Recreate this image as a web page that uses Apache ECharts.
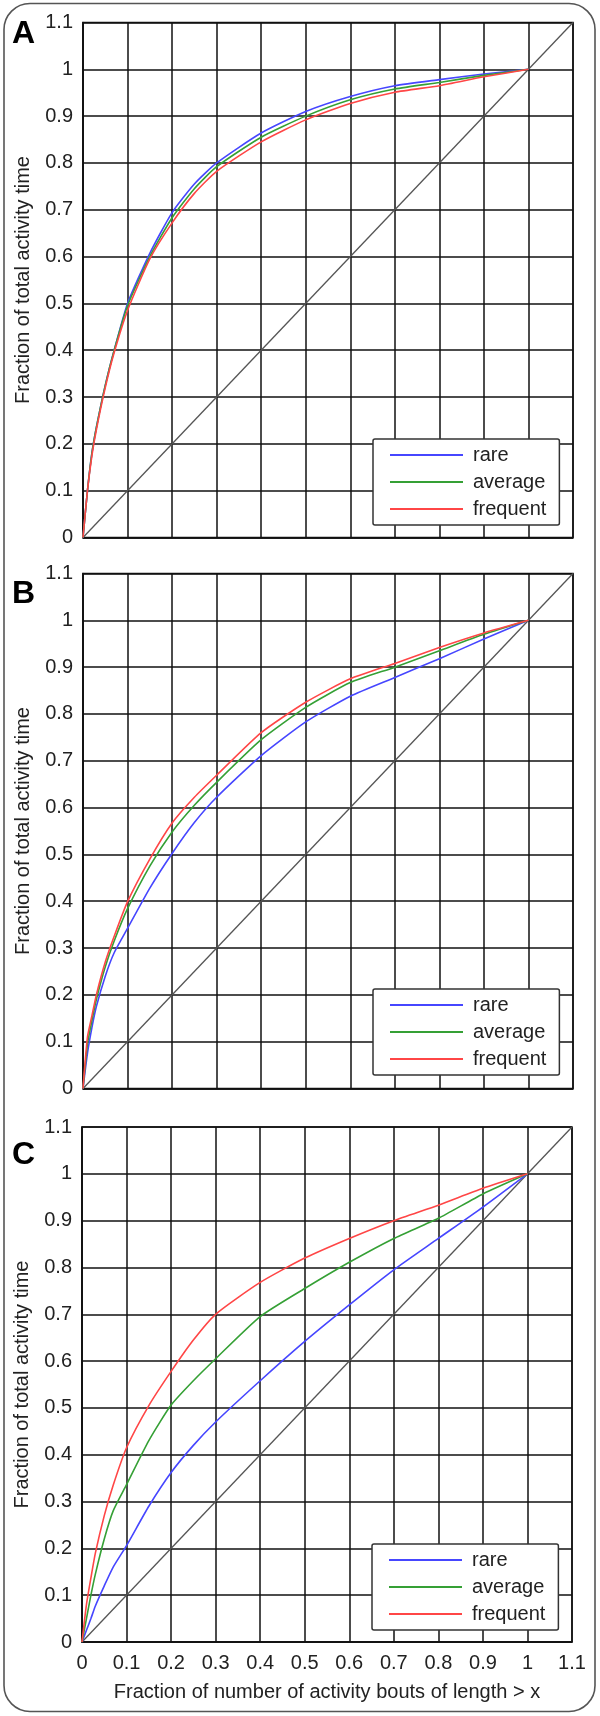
<!DOCTYPE html>
<html>
<head>
<meta charset="utf-8">
<script src="https://cdn.jsdelivr.net/npm/echarts@6/dist/echarts.min.js"></script>
<style>
html,body{margin:0;padding:0;background:#fff;}
#chart{width:600px;height:1716px;}
</style>
</head>
<body>
<div id="chart"></div>
<script>
// ---- Data ----
const xValues = [0, 0.01, 0.02, 0.03, 0.05, 0.07, 0.1, 0.15, 0.2, 0.25, 0.3, 0.4, 0.5, 0.6, 0.7, 0.8, 0.9, 1.0];
const seriesNames = ['rare', 'average', 'frequent'];
const panelLetters = ['A', 'B', 'C'];
const tickLabels = ['0','0.1','0.2','0.3','0.4','0.5','0.6','0.7','0.8','0.9','1','1.1'];
const diagonal = [[0, 0], [1.1, 1.1]];

// Panel A
const rareA     = [0, 0.10, 0.18, 0.235, 0.325, 0.40, 0.50, 0.607, 0.694, 0.755, 0.800, 0.864, 0.910, 0.942, 0.965, 0.978, 0.990, 1];
const averageA  = [0, 0.10, 0.18, 0.235, 0.325, 0.40, 0.495, 0.600, 0.683, 0.745, 0.792, 0.855, 0.900, 0.935, 0.958, 0.972, 0.987, 1];
const frequentA = [0, 0.10, 0.175, 0.23, 0.32, 0.395, 0.485, 0.595, 0.672, 0.735, 0.782, 0.845, 0.892, 0.927, 0.951, 0.965, 0.984, 1];
// Panel B
const rareB     = [0, 0.075, 0.13, 0.175, 0.24, 0.29, 0.342, 0.428, 0.502, 0.568, 0.622, 0.711, 0.783, 0.838, 0.878, 0.918, 0.960, 1];
const averageB  = [0, 0.095, 0.145, 0.19, 0.26, 0.315, 0.384, 0.475, 0.548, 0.605, 0.654, 0.745, 0.814, 0.867, 0.900, 0.935, 0.970, 1];
const frequentB = [0, 0.11, 0.155, 0.20, 0.27, 0.325, 0.399, 0.49, 0.567, 0.622, 0.669, 0.760, 0.825, 0.875, 0.908, 0.942, 0.973, 1];
// Panel C
const rareC     = [0, 0.025, 0.05, 0.077, 0.12, 0.16, 0.206, 0.29, 0.362, 0.42, 0.470, 0.558, 0.642, 0.720, 0.795, 0.862, 0.929, 1];
const averageC  = [0, 0.05, 0.10, 0.145, 0.22, 0.28, 0.336, 0.43, 0.506, 0.558, 0.605, 0.695, 0.755, 0.811, 0.862, 0.905, 0.957, 1];
const frequentC = [0, 0.08, 0.137, 0.19, 0.27, 0.335, 0.415, 0.505, 0.578, 0.645, 0.700, 0.768, 0.820, 0.862, 0.900, 0.933, 0.969, 1];

const panels = [
  [rareA, averageA, frequentA],
  [rareB, averageB, frequentB],
  [rareC, averageC, frequentC]
];

// ---- Styling / layout ----
const colors = ['#4646ff', '#35a035', '#ff4646'];
const FONT = '"Liberation Sans", Arial, sans-serif';
const TXT = '#222';
const grids = [
  {left: 83, top: 22.5, width: 490, height: 515},
  {left: 83, top: 573.5, width: 490, height: 515},
  {left: 82, top: 1127, width: 490, height: 515}
];
const legendPos = [
  {left: 373, top: 439},
  {left: 373, top: 989},
  {left: 372, top: 1544}
];
const letterPos = [[24, 36], [24, 596.5], [24, 1157]];

const fmt = v => {
  const i = Math.round(v * 10);
  return tickLabels[i] !== undefined ? tickLabels[i] : '';
};

const xAxes = [], yAxes = [], series = [], legends = [], graphics = [];
grids.forEach((g, p) => {
  xAxes.push({
    type: 'value', gridIndex: p, min: 0, max: 1.1, interval: 0.1,
    axisLine: {show: true, lineStyle: {color: '#111', width: 1.5}},
    axisTick: {show: false},
    splitLine: {show: true, lineStyle: {color: '#111', width: 1.5}},
    axisLabel: {show: p === 2, formatter: fmt, fontSize: 20, color: TXT, fontFamily: FONT, margin: 11},
    name: p === 2 ? 'Fraction of number of activity bouts of length > x' : '',
    nameLocation: 'middle', nameGap: 40,
    nameTextStyle: {fontSize: 20, color: TXT, fontFamily: FONT}
  });
  yAxes.push({
    type: 'value', gridIndex: p, min: 0, max: 1.1, interval: 0.1,
    axisLine: {show: true, lineStyle: {color: '#111', width: 1.5}},
    axisTick: {show: false},
    splitLine: {show: true, lineStyle: {color: '#111', width: 1.5}},
    axisLabel: {formatter: fmt, fontSize: 20, color: TXT, fontFamily: FONT, margin: 10},
    name: 'Fraction of total activity time',
    nameLocation: 'middle', nameGap: 50,
    nameTextStyle: {fontSize: 20, color: TXT, fontFamily: FONT}
  });
  series.push({
    type: 'line', name: 'diag', xAxisIndex: p, yAxisIndex: p,
    data: diagonal, symbol: 'none', silent: true,
    lineStyle: {color: '#555', width: 1.3}, z: 3
  });
  panels[p].forEach((vals, s) => {
    series.push({
      type: 'line', name: seriesNames[s], xAxisIndex: p, yAxisIndex: p,
      data: xValues.map((x, i) => [x, vals[i]]),
      symbol: 'none', smooth: 0.2,
      color: colors[s],
      lineStyle: {color: colors[s], width: 1.6}, z: 4
    });
  });
  legends.push({
    orient: 'vertical', left: legendPos[p].left, top: legendPos[p].top,
    data: seriesNames,
    padding: [6, 13, 6, 16], itemGap: 7, itemWidth: 73, itemHeight: 20,
    backgroundColor: '#fff', borderColor: '#333', borderWidth: 1.5, borderRadius: 2,
    selectedMode: false,
    itemStyle: {opacity: 0},
    lineStyle: {width: 2},
    textStyle: {fontSize: 20, color: TXT, fontFamily: FONT, padding: [0, 0, 0, 5]},
    z: 10
  });
  graphics.push({
    type: 'text', left: letterPos[p][0] - 12, top: letterPos[p][1] - 18,
    style: {text: panelLetters[p], font: 'bold 32px ' + FONT, fill: '#000'}
  });
});

graphics.push({
  type: 'rect', shape: {x: 4, y: 3.5, width: 591, height: 1708, r: 26},
  style: {fill: 'none', stroke: '#555', lineWidth: 1.6}, z: -1
});

const chart = echarts.init(document.getElementById('chart'), null, {renderer: 'canvas'});
chart.setOption({
  animation: false,
  backgroundColor: '#fff',
  grid: grids.map(g => Object.assign({show: true, borderColor: '#111', borderWidth: 1.5, backgroundColor: 'transparent'}, g)),
  xAxis: xAxes,
  yAxis: yAxes,
  legend: legends,
  series: series,
  graphic: graphics
});
</script>
</body>
</html>
